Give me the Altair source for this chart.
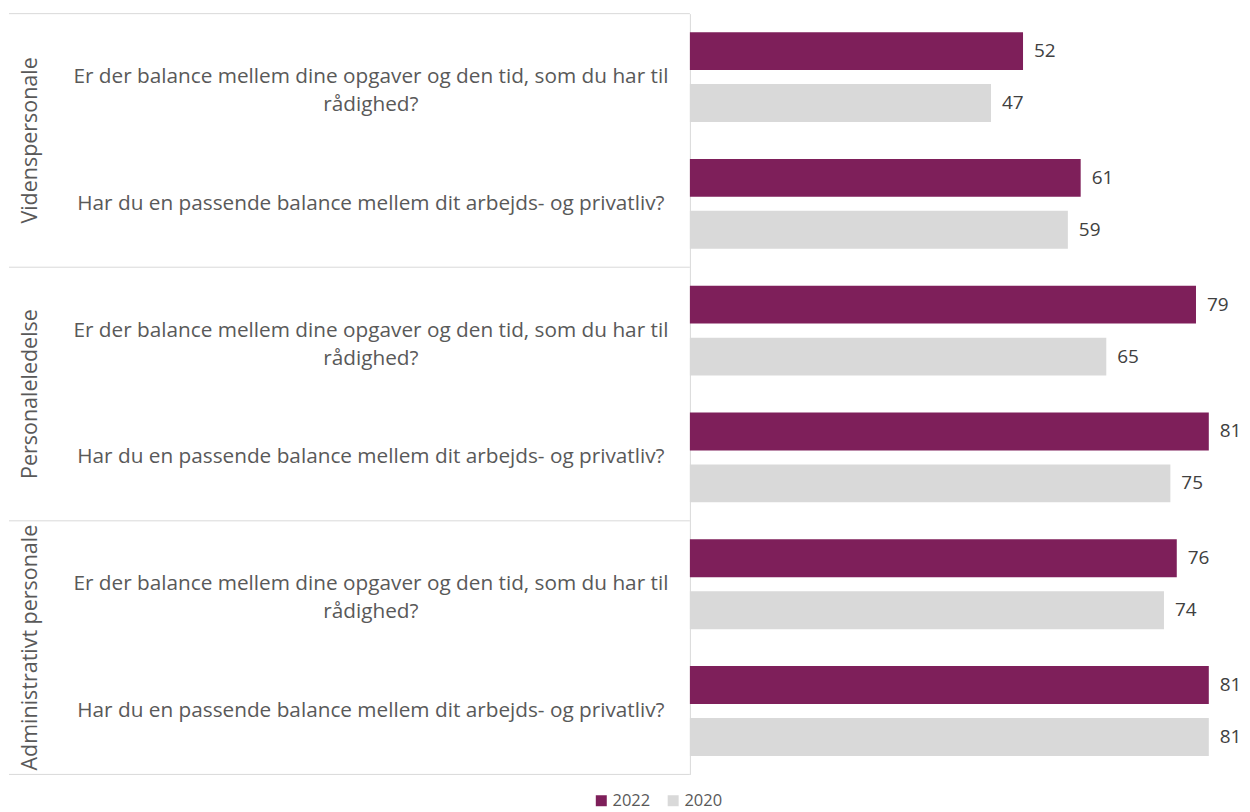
import altair as alt
import pandas as pd

groups = ["Videnspersonale", "Personaleledelse", "Administrativt personale"]
questions = [
    "Er der balance mellem dine opgaver og den tid, som du har til\nrådighed?",
    "Har du en passende balance mellem dit arbejds- og privatliv?",
]
years = ["2022", "2020"]
values_2022 = [52, 61, 79, 81, 76, 81]
values_2020 = [47, 59, 65, 75, 74, 81]
colors = ["#7E1F5A", "#D9D9D9"]

rows = []
keys = []
i = 0
for g in groups:
    for q in questions:
        key = f"{i}|{q}"
        keys.append(key)
        rows.append(dict(group=g, key=key, year="2022", value=values_2022[i]))
        rows.append(dict(group=g, key=key, year="2020", value=values_2020[i]))
        i += 1
df = pd.DataFrame(rows)
gdf = pd.DataFrame({"group": groups})

FONT = "Open Sans"
TXT = "#595959"

xscale = alt.Scale(domain=[0, 84], nice=False, zero=True)
yscale = alt.Scale(paddingInner=0, paddingOuter=0)
offscale = alt.Scale(paddingInner=0.27, paddingOuter=0.356)

base = alt.Chart(df)

bars = base.mark_bar().encode(
    x=alt.X("value:Q", scale=xscale, axis=None),
    y=alt.Y(
        "key:N",
        sort=keys,
        scale=yscale,
        axis=alt.Axis(
            title=None,
            ticks=False,
            tickSize=0,
            labelPadding=320,
            labelAlign="center",
            labelExpr="split(split(datum.label, '|')[1], '\\n')",
            labelFont=FONT,
            labelFontSize=20.8,
            labelColor=TXT,
            labelLimit=700,
            labelLineHeight=28,
            domainColor="#D9D9D9",
            domainWidth=1,
            grid=False,
        ),
    ),
    yOffset=alt.YOffset("year:N", sort=years, scale=offscale),
    color=alt.Color(
        "year:N",
        sort=years,
        scale=alt.Scale(domain=years, range=colors),
        legend=alt.Legend(
            orient="none",
            legendX=-97,
            legendY=780,
            direction="horizontal",
            title=None,
            symbolType="square",
            symbolSize=121,
            symbolStrokeWidth=0,
            symbolOpacity=1,
            labelFont=FONT,
            labelFontSize=16.5,
            labelColor=TXT,
            columnPadding=14,
            labelOffset=3,
            padding=0,
        ),
    ),
)

labels = base.mark_text(
    align="left", baseline="middle", dx=11, font=FONT, fontSize=19, color="#404040"
).encode(
    x=alt.X("value:Q", scale=xscale, axis=None),
    y=alt.Y("key:N", sort=keys, scale=yscale),
    yOffset=alt.YOffset("year:N", sort=years, scale=offscale),
    text=alt.Text("value:Q"),
)

bar_panel = alt.layer(bars, labels)

gscale = alt.Scale(domain=groups, paddingInner=0, paddingOuter=0)

group_text = alt.Chart(gdf).mark_text(
    angle=270, align="center", baseline="middle", font=FONT, fontSize=21.5, color=TXT
).encode(
    x=alt.value(-660),
    y=alt.Y("group:N", sort=groups, scale=gscale, axis=None),
    text="group:N",
)

sep_top = alt.Chart(gdf).mark_rule(color="#D9D9D9", strokeWidth=1).encode(
    x=alt.value(-682),
    x2=alt.value(0),
    y=alt.Y("group:N", sort=groups, scale=gscale, axis=None, bandPosition=0),
)

sep_bottom = alt.Chart(gdf).transform_filter(
    alt.datum.group == groups[-1]
).mark_rule(color="#D9D9D9", strokeWidth=1).encode(
    x=alt.value(-682),
    x2=alt.value(0),
    y=alt.Y("group:N", sort=groups, scale=gscale, axis=None, bandPosition=1),
)

chart = (
    alt.layer(alt.layer(sep_top, sep_bottom, group_text), bar_panel)
    .resolve_scale(y="independent")
    .properties(
        width=539,
        height=762,
        padding={"left": 0, "top": 4, "right": 0, "bottom": 0},
    )
    .configure(font=FONT)
    .configure_view(stroke=None)
)

chart.save("out.html", embed_options={"renderer": "svg", "actions": False})
